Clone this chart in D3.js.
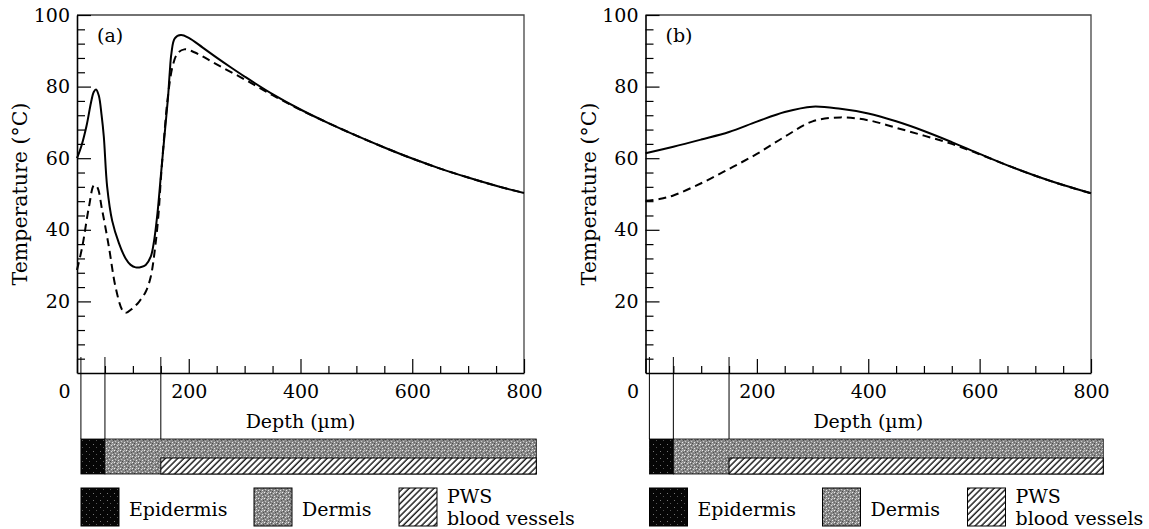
<!DOCTYPE html>
<html>
<head>
<meta charset="utf-8">
<script src="https://cdn.jsdelivr.net/npm/d3@7"></script>
<style>
  body { margin: 0; background: #fff; }
  svg { display: block; }
</style>
</head>
<body>
<script>
// ---- data ----
// panel (a)
const depthASolid = [0,8,17,25,30,34,39,44,48,54,63,75,87,96,105,115,123,132,138,144,150,155,160,163,166,169,175,186,200,225,250,275,300,350,400,450,500,550,600,650,700,750,800];
const tempASolid  = [60,63.5,69,75.5,78.5,79.2,77.5,72,66,52,42.5,36.3,32,30.2,29.5,29.6,30.2,32.5,37,44.6,55,63.6,72,77.2,84,89.3,93.5,94.4,93.6,90.9,88.1,85.4,82.8,77.9,73.6,69.8,66.3,63,59.9,57.1,54.6,52.3,50.3];
const depthADash  = [0,9.5,21.5,30.5,36,45,57,69,81,87,99,111,123,132,140,146,150,156,162,171,180,192,210,250,300,350,400,450,500,550,600,650,700,750,800];
const tempADash   = [28.8,35.3,46.5,52.5,52,45.5,35.3,24,17.6,16.8,18,19.9,22.7,26.9,35.3,44.6,54,66,76.3,85.6,89.3,90.4,89.6,86.2,82,77.6,73.5,69.8,66.3,63,59.9,57.1,54.6,52.3,50.3];
// panel (b)
const depthBSolid = [0,50,100,150,200,250,300,350,400,450,500,550,600,650,700,750,800];
const tempBSolid  = [61.4,63.2,65.2,67.3,70.2,72.9,74.4,73.8,72.5,70.3,67.6,64.5,61.2,58,55.1,52.5,50.2];
const depthBDash  = [0,25,50,100,150,200,250,300,350,400,450,500,550,600,650,700,750,800];
const tempBDash   = [48.1,48.6,49.6,53,57,61.2,66,70.3,71.4,70.6,68.5,66.3,64,61.1,58,55.1,52.5,50.2];

// skin layers (depth in um)
const layerEdges = [7, 50, 150, 822];
const legendNames = ['Epidermis', 'Dermis', 'PWS'];

const yMajor = [20, 40, 60, 80, 100];
const xMajor = [0, 200, 400, 600, 800];

const width = 1149, height = 529;
const font = "'DejaVu Serif', 'Liberation Serif', serif";

let svg = d3.select('body')
  .append('svg')
    .attr('width', width)
    .attr('height', height)
    .style('background', '#fff');

// fill patterns for the layer bar
let defs = svg.append('defs');

let epi = defs.append('pattern')
  .attr('id', 'epi').attr('patternUnits', 'userSpaceOnUse')
  .attr('width', 7).attr('height', 7);
epi.append('rect').attr('width', 7).attr('height', 7).attr('fill', '#060606');
epi.append('rect').attr('x', 2).attr('y', 3).attr('width', 1).attr('height', 1).attr('fill', '#777');
epi.append('rect').attr('x', 5).attr('y', 6).attr('width', 1).attr('height', 1).attr('fill', '#555');

let der = defs.append('pattern')
  .attr('id', 'der').attr('patternUnits', 'userSpaceOnUse')
  .attr('width', 6).attr('height', 6);
der.append('rect').attr('width', 6).attr('height', 6).attr('fill', '#8a8a8a');
[[0,0,'#f0f0f0'],[3,1,'#dcdcdc'],[1,3,'#c8c8c8'],[4,4,'#e8e8e8'],[2,5,'#4a4a4a'],[5,2,'#505050'],[1,1,'#555'],[4,0,'#bdbdbd'],[0,4,'#666'],[3,3,'#777']]
  .forEach(p => der.append('rect').attr('x', p[0]).attr('y', p[1]).attr('width', 1).attr('height', 1).attr('fill', p[2]));

let hatch = defs.append('pattern')
  .attr('id', 'hatch').attr('patternUnits', 'userSpaceOnUse')
  .attr('width', 4.4).attr('height', 4.4)
  .attr('patternTransform', 'rotate(45)');
hatch.append('rect').attr('width', 4.4).attr('height', 4.4).attr('fill', '#fff');
hatch.append('line').attr('x1', 1).attr('x2', 1).attr('y1', 0).attr('y2', 4.4)
  .attr('stroke', '#000').attr('stroke-width', 1.3);

const fills = ['url(#epi)', 'url(#der)', 'url(#hatch)'];

function drawPanel(p) {
  let x = d3.scaleLinear().domain([0, 800]).range([p.left, p.right]);
  let y = d3.scaleLinear().domain([0, 100]).range([373, 15]);

  // frame top and right
  svg.append('path')
    .attr('d', `M${x(0)},${y(100)}H${x(800)}V${y(0)}`)
    .attr('fill', 'none')
    .attr('stroke', '#444')
    .attr('stroke-width', 1.3);

  // y axis: minor then major ticks, pointing inward
  let yMinor = svg.append('g')
    .attr('transform', `translate(${x(0)},0)`)
    .call(d3.axisLeft(y).tickValues(d3.range(4, 100, 4).filter(v => v % 20)).tickSize(-8).tickFormat(''));
  yMinor.select('.domain').remove();

  let yAxis = svg.append('g')
    .attr('transform', `translate(${x(0)},0)`)
    .call(d3.axisLeft(y).tickValues(yMajor).tickSize(-14).tickSizeOuter(0).tickPadding(7));
  yAxis.attr('font-family', font).attr('font-size', 19);

  // x axis
  let xMinor = svg.append('g')
    .attr('transform', `translate(0,${y(0)})`)
    .call(d3.axisBottom(x).tickValues(d3.range(50, 800, 50).filter(v => v % 200)).tickSize(-7).tickFormat(''));
  xMinor.select('.domain').remove();

  let xAxis = svg.append('g')
    .attr('transform', `translate(0,${y(0)})`)
    .call(d3.axisBottom(x).tickValues(xMajor).tickSize(-14).tickSizeOuter(0).tickPadding(12));
  xAxis.attr('font-family', font).attr('font-size', 19);
  xAxis.selectAll('.tick text').filter(d => d === 0).attr('dx', -13);

  svg.selectAll('.domain').attr('stroke-width', 1.6);
  svg.selectAll('.tick line').attr('stroke-width', 1.2);

  // axis titles
  svg.append('text')
    .attr('x', x(400))
    .attr('y', 428)
    .attr('text-anchor', 'middle')
    .style('font-family', font)
    .style('font-size', '19px')
    .text('Depth (\u00b5m)');

  svg.append('text')
    .attr('transform', `translate(${x(0) - 50},${y(50)}) rotate(-90)`)
    .attr('text-anchor', 'middle')
    .style('font-family', font)
    .style('font-size', '20.5px')
    .text('Temperature (\u00b0C)');

  svg.append('text')
    .attr('x', x(0) + 20)
    .attr('y', 42)
    .style('font-family', font)
    .style('font-size', '19px')
    .text(p.label);

  // curves
  let line = d3.line()
    .x(d => x(d[0]))
    .y(d => y(d[1]))
    .curve(d3.curveCatmullRom.alpha(0.5));

  svg.append('path')
    .attr('d', line(d3.zip(p.solidX, p.solidY)))
    .attr('fill', 'none')
    .attr('stroke', '#000')
    .attr('stroke-width', 2);

  svg.append('path')
    .attr('d', line(d3.zip(p.dashX, p.dashY)))
    .attr('fill', 'none')
    .attr('stroke', '#000')
    .attr('stroke-width', 2)
    .attr('stroke-dasharray', '8,5');

  // layer boundary lines down to the bar
  const barTop = 439, barMid = 458, barBot = 474;
  layerEdges.slice(0, 3).forEach(e => {
    svg.append('line')
      .attr('x1', x(e)).attr('x2', x(e))
      .attr('y1', y(0) - 16).attr('y2', barTop)
      .attr('stroke', '#000').attr('stroke-width', 1);
  });

  // layer bar
  let bar = svg.append('g');
  bar.append('rect')
    .attr('x', x(layerEdges[0])).attr('y', barTop)
    .attr('width', x(layerEdges[1]) - x(layerEdges[0])).attr('height', barBot - barTop)
    .attr('fill', fills[0]).attr('stroke', '#000').attr('stroke-width', 0.8);
  bar.append('rect')
    .attr('x', x(layerEdges[1])).attr('y', barTop)
    .attr('width', x(layerEdges[3]) - x(layerEdges[1])).attr('height', barBot - barTop)
    .attr('fill', fills[1]).attr('stroke', '#000').attr('stroke-width', 0.8);
  bar.append('rect')
    .attr('x', x(layerEdges[2])).attr('y', barMid)
    .attr('width', x(layerEdges[3]) - x(layerEdges[2])).attr('height', barBot - barMid)
    .attr('fill', fills[2]).attr('stroke', '#000').attr('stroke-width', 1);

  // legend
  const legendOffsets = [4, 177, 322];
  legendNames.forEach((name, i) => {
    let lx = x(0) + legendOffsets[i];
    svg.append('rect')
      .attr('x', lx).attr('y', 488)
      .attr('width', 38).attr('height', 38)
      .attr('fill', fills[i])
      .attr('stroke', '#000').attr('stroke-width', 1);
    svg.append('text')
      .attr('x', lx + 48)
      .attr('y', i === 2 ? 503 : 516)
      .style('font-family', font)
      .style('font-size', '19px')
      .text(name);
    if (i === 2) {
      svg.append('text')
        .attr('x', lx + 48)
        .attr('y', 525)
        .style('font-family', font)
        .style('font-size', '19px')
        .text('blood vessels');
    }
  });
}

drawPanel({ left: 77, right: 524, label: '(a)',
  solidX: depthASolid, solidY: tempASolid, dashX: depthADash, dashY: tempADash });
drawPanel({ left: 645.5, right: 1091, label: '(b)',
  solidX: depthBSolid, solidY: tempBSolid, dashX: depthBDash, dashY: tempBDash });
</script>
</body>
</html>
